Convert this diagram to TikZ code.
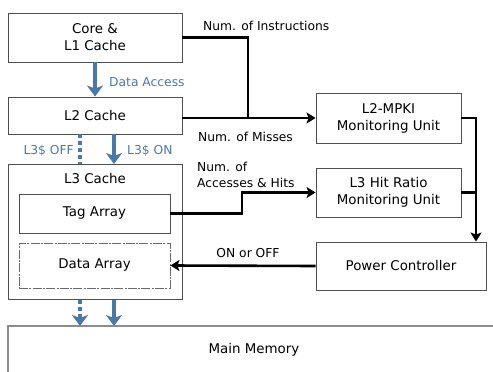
\documentclass[tikz,border=0pt]{standalone}
\usepackage{fontspec}
\setmainfont{DejaVu Sans}
\usetikzlibrary{arrows.meta,calc}
\definecolor{accblue}{HTML}{4A78AB}
\definecolor{boxgray}{HTML}{505050}
\definecolor{memgray}{HTML}{8C8C8C}
\tikzset{
  box/.style={draw=boxgray,line width=0.9pt,rectangle,inner sep=0pt,align=center,
    font=\fontsize{13.4}{17}\selectfont},
  lbl/.style={inner sep=0pt,font=\fontsize{12.3}{16}\selectfont,align=left},
  conn/.style={line width=2.6pt,draw=black,-{Stealth[length=9pt,width=11pt,inset=2pt]}},
  connline/.style={line width=2.6pt,draw=black},
  barrow/.style={line width=4.5pt,draw=accblue,-{Stealth[length=11pt,width=16pt,inset=3pt]}},
  bdot/.style={line width=4.5pt,draw=accblue,dash pattern=on 4pt off 3pt},
}
\begin{document}
\begin{tikzpicture}[x=1pt,y=-1pt]
\useasboundingbox (0,0) rectangle (493,372);
% boxes
\node[box,minimum width=174pt,minimum height=49pt] (core) at (95,37.5) {Core \&\\L1 Cache};
\node[box,minimum width=174pt,minimum height=37pt] (l2) at (95,115.5) {L2 Cache};
\node[box,minimum width=174pt,minimum height=135pt] (l3) at (95,231.5) {};
\node[lbl,font=\fontsize{13.4}{17}\selectfont] (l3lbl) at (95,179) {L3 Cache};
\node[box,minimum width=151pt,minimum height=39pt] (tag) at (94.5,213.5) {Tag Array};
\node[box,draw=boxgray!85,dash pattern=on 9pt off 1.3pt on 2pt off 1.3pt,minimum width=151pt,minimum height=45pt] (data) at (94.5,265.5) {Data Array};
\node[box,minimum width=145pt,minimum height=50pt] (mpki) at (388.5,118) {L2-MPKI\\Monitoring Unit};
\node[box,minimum width=145pt,minimum height=49pt] (hit) at (388.5,192.5) {L3 Hit Ratio\\Monitoring Unit};
\node[box,minimum width=170pt,minimum height=48pt] (pc) at (401,266) {Power Controller};
\draw[memgray,line width=1.6pt] (500,326) -- (8,326) -- (8,380);
\node[lbl,font=\fontsize{13.4}{17}\selectfont] (mem) at (254,350) {Main Memory};
% black connectors
\coordinate (j1) at (248,118);
\draw[conn] (core.east) -| (j1) -- (mpki.west);
\draw[connline] (l2.east |- j1) -- (j1);
\coordinate (j2) at (242,192.5);
\draw[conn] (tag.east) -| (j2) -- (hit.west);
\coordinate (j3) at (476,118);
\draw[conn] (mpki.east) -- (j3) -- (j3 |- pc.north);
\draw[connline] (hit.east) -- (hit.east -| j3);
\draw[conn] (pc.west) -- (data.east);
% blue arrows
\draw[barrow] (core.south) -- (l2.north);
\coordinate (a1) at (80,134);
\coordinate (a2) at (80,164);
\coordinate (b1) at (114,134);
\coordinate (b2) at (114,164);
\draw[bdot] (a1) -- (a2);
\draw[barrow] (b1) -- (b2);
\coordinate (c1) at (80,299.5);
\coordinate (c2) at (80,326);
\coordinate (d1) at (114,299.5);
\coordinate (d2) at (114,326);
\draw[bdot] (c1) -- ($(c2)+(0,-9)$);
\draw[line width=4.5pt,draw=accblue,-{Stealth[length=11pt,width=16pt,inset=3pt]}] ($(c2)+(0,-10)$) -- (c2);
\draw[barrow] (d1) -- (d2);
% labels
\node[lbl,anchor=west,text=accblue] (lda) at (109,82) {Data Access};
\node[lbl,anchor=east,text=accblue] (loff) at (74,151) {L3\$ OFF};
\node[lbl,anchor=west,text=accblue] (lon) at (127,151) {L3\$ ON};
\node[lbl,anchor=west] (lins) at (203,26) {Num. of Instructions};
\node[lbl,anchor=west] (lmis) at (198,137) {Num. of Misses};
\node[lbl,anchor=west] (lacc) at (197,175) {Num. of\\Accesses \& Hits};
\node[lbl] (lonoff) at (248,253) {ON or OFF};
\end{tikzpicture}
\end{document}
